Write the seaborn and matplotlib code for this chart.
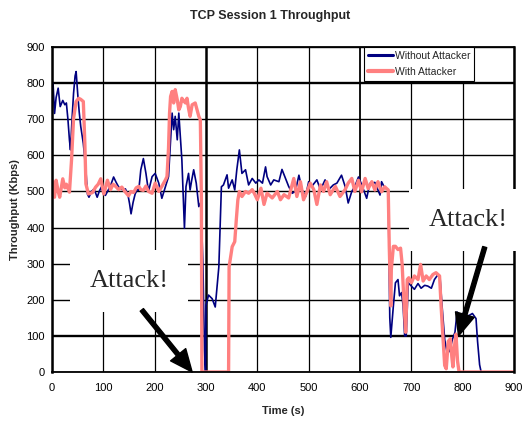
import matplotlib

matplotlib.use("Agg")
import matplotlib.pyplot as plt
import pandas as pd
import seaborn as sns

# (time in s, throughput in Kbps)
time_without = [
    0, 2, 5, 8, 12, 16, 21, 25, 28, 31, 34, 36, 39, 42, 45, 47, 50, 53, 56, 61,
    66, 69, 72, 77, 82, 88, 92, 96, 100, 104, 110, 115, 120, 125, 130, 137, 143,
    148, 151, 154, 158, 162, 166, 169, 173, 178, 183, 188, 195, 201, 208, 214,
    221, 227, 231, 234, 237, 240, 244, 247, 250, 253, 256, 258, 261, 266, 269,
    272, 276, 281, 286, 290, 294, 297, 299, 300, 305, 312, 318, 321, 325, 328,
    330, 334, 341, 344, 351, 356, 360, 365, 370, 377, 383, 390, 397, 403, 410,
    416, 419, 426, 432, 442, 448, 455, 461, 468, 474, 481, 487, 494, 500, 506,
    516, 523, 532, 539, 548, 555, 564, 571, 577, 584, 590, 597, 603, 613, 619,
    629, 639, 642, 648, 655, 658, 660, 665, 669, 674, 677, 681, 684, 687, 690,
    694, 700, 706, 713, 719, 726, 732, 739, 745, 752, 756, 760, 765, 770, 775,
    780, 785, 789, 794, 800, 806, 813, 819, 826, 829, 833, 836,
]
throughput_without = [
    760, 800, 716, 760, 786, 735, 752, 740, 745, 700, 642, 615, 700, 772, 820,
    832, 772, 720, 680, 633, 560, 493, 484, 500, 507, 484, 500, 512, 495, 489,
    505, 520, 540, 525, 512, 505, 507, 490, 467, 438, 470, 493, 505, 503, 560,
    591, 550, 500, 541, 550, 523, 481, 513, 541, 643, 717, 671, 708, 643, 717,
    652, 587, 476, 398, 513, 550, 504, 530, 560, 523, 458, 470, 300, 60, 0, 185,
    213, 203, 180, 227, 291, 421, 513, 518, 546, 509, 532, 504, 560, 615, 550,
    560, 518, 536, 523, 532, 523, 568, 541, 518, 532, 527, 561, 536, 514, 495,
    500, 545, 505, 486, 527, 514, 532, 505, 532, 505, 518, 523, 545, 514, 468,
    500, 514, 540, 520, 481, 522, 525, 490, 527, 510, 505, 151, 96, 183, 247,
    256, 211, 220, 183, 100, 100, 247, 238, 229, 245, 232, 240, 238, 232, 256,
    270, 260, 180, 90, 50, 60, 90, 110, 166, 157, 162, 153, 157, 162, 148, 85,
    20, 0,
]

time_with = [
    0, 5, 8, 12, 15, 21, 25, 28, 34, 38, 42, 47, 52, 56, 61, 64, 66, 71, 79, 85,
    90, 95, 101, 108, 114, 119, 124, 130, 136, 142, 149, 154, 159, 164, 169,
    173, 178, 183, 188, 195, 201, 208, 214, 221, 224, 227, 229, 231, 234, 237,
    240, 244, 247, 250, 253, 257, 260, 263, 266, 269, 273, 279, 286, 289, 291,
    292, 344, 345, 351, 356, 359, 362, 365, 370, 377, 383, 390, 394, 400, 407,
    413, 419, 429, 439, 445, 452, 461, 471, 477, 484, 490, 497, 503, 510, 516,
    523, 529, 535, 542, 552, 561, 571, 577, 584, 590, 597, 603, 610, 616, 623,
    629, 635, 642, 648, 655, 657, 660, 661, 665, 669, 674, 679, 682, 686, 689,
    692, 695, 700, 706, 713, 718, 723, 729, 735, 742, 748, 755, 758, 761, 765,
    768, 772, 776, 779, 781, 784, 787, 790, 793, 900,
]
throughput_with = [
    531, 484, 531, 500, 484, 535, 510, 520, 498, 586, 702, 749, 758, 755, 749,
    633, 521, 493, 497, 512, 520, 535, 493, 531, 505, 520, 514, 505, 512, 500,
    488, 500, 497, 510, 514, 505, 503, 515, 500, 495, 523, 500, 514, 532, 541,
    620, 717, 763, 777, 745, 782, 754, 726, 735, 758, 750, 745, 758, 730, 708,
    740, 745, 708, 698, 480, 0, 0, 291, 347, 361, 421, 476, 500, 486, 500, 495,
    505, 495, 477, 509, 464, 495, 482, 500, 477, 491, 482, 536, 486, 527, 477,
    500, 523, 505, 464, 518, 500, 527, 491, 514, 486, 505, 523, 536, 500, 531,
    499, 536, 508, 527, 504, 527, 499, 513, 504, 348, 183, 284, 348, 348, 339,
    343, 300, 183, 110, 256, 261, 247, 266, 256, 298, 252, 266, 256, 270, 275,
    266, 183, 110, 18, 9, 85, 92, 40, 14, 70, 105, 30, 0, 0,
]

x_ticks = list(range(0, 1000, 100))
y_ticks = list(range(0, 1000, 100))

sns.set_style("white")
plt.rcParams["font.family"] = ["Liberation Sans", "DejaVu Sans"]

fig = plt.figure(figsize=(5.25, 4.26), dpi=100)
ax = fig.add_axes([52 / 525, 1 - 372 / 426, 462 / 525, 325 / 426])

df_without = pd.DataFrame({"time": time_without, "kbps": throughput_without})
df_with = pd.DataFrame({"time": time_with, "kbps": throughput_with})

sns.lineplot(data=df_without, x="time", y="kbps", ax=ax, color="#000080",
             linewidth=1.2, label="Without Attacker", zorder=2)
sns.lineplot(data=df_with, x="time", y="kbps", ax=ax, color="#FF8080",
             linewidth=2.4, label="With Attacker", zorder=2.1)

ax.set_xlim(0, 900)
ax.set_ylim(0, 900)
ax.set_xticks(x_ticks)
ax.set_yticks(y_ticks)
ax.tick_params(direction="inout", length=6, width=1, colors="black",
               labelsize=8)
ax.tick_params(axis="x", pad=5)
ax.tick_params(axis="y", pad=2)

ax.set_axisbelow(True)
ax.grid(True, color="black", linewidth=1.0)
thick_h = {100, 800}
for value, line in zip(y_ticks, ax.get_ygridlines()):
    line.set_linewidth(1.7 if value in thick_h else 1.0)
for value, line in zip(x_ticks, ax.get_xgridlines()):
    line.set_linewidth(1.8 if value == 300 else (1.3 if value == 600 else 0.9))

for side, lw in [("left", 1.8), ("bottom", 1.3), ("top", 1.3), ("right", 1.8)]:
    ax.spines[side].set_visible(True)
    ax.spines[side].set_color("black")
    ax.spines[side].set_linewidth(lw)

ax.set_title("TCP Session 1 Throughput", fontsize=9, fontweight="bold",
             pad=20, x=0.472)
ax.set_xlabel("Time (s)", fontsize=8, fontweight="bold", labelpad=9)
ax.set_ylabel("Throughput (Kbps)", fontsize=8, fontweight="bold", labelpad=5)

legend = ax.legend(loc="upper right", bbox_to_anchor=(0.913, 1.0),
                   borderaxespad=0, fontsize=7.5, frameon=True, fancybox=False,
                   framealpha=1, edgecolor="black", handlelength=2.4,
                   handletextpad=0.15, labelspacing=0.6, borderpad=0.35)
legend.get_frame().set_linewidth(0.8)
legend.get_lines()[0].set_linewidth(2.2)
legend.get_lines()[1].set_linewidth(3.0)

attack_font = dict(fontsize=19, family=["Liberation Serif", "DejaVu Serif"],
                   ha="center", va="center", zorder=3, clip_on=False,
                   bbox=dict(boxstyle="square,pad=0.75", facecolor="white",
                             edgecolor="none"))
arrow = dict(facecolor="black", edgecolor="black", width=3, headwidth=14,
             headlength=16, shrink=0)

ax.text(150, 252, "Attack!", **attack_font)
ax.annotate("", xy=(273, 0), xytext=(175, 172), arrowprops=arrow, zorder=4,
            annotation_clip=False)
ax.text(811, 421, "Attack!", **attack_font)
ax.annotate("", xy=(792, 100), xytext=(843, 346), arrowprops=arrow, zorder=4)

fig.savefig("out.png", dpi=100)
plt.close(fig)
